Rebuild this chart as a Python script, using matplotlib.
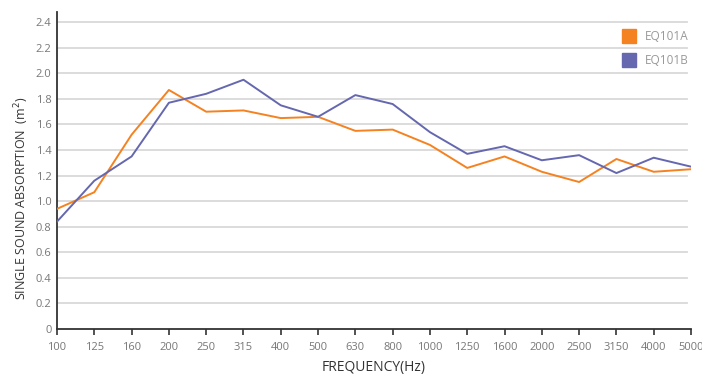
import matplotlib
matplotlib.use("Agg")
import matplotlib.pyplot as plt
from matplotlib.patches import Rectangle

plt.rcParams['font.family'] = ['Open Sans', 'DejaVu Sans']

freqs = ["100", "125", "160", "200", "250", "315", "400", "500", "630", "800",
         "1000", "1250", "1600", "2000", "2500", "3150", "4000", "5000"]
eq101a = [0.94, 1.07, 1.52, 1.87, 1.70, 1.71, 1.65, 1.66, 1.55, 1.56,
          1.44, 1.26, 1.35, 1.23, 1.15, 1.33, 1.23, 1.25]
eq101b = [0.84, 1.16, 1.35, 1.77, 1.84, 1.95, 1.75, 1.66, 1.83, 1.76,
          1.54, 1.37, 1.43, 1.32, 1.36, 1.22, 1.34, 1.27]
yticks = [0, 0.2, 0.4, 0.6, 0.8, 1.0, 1.2, 1.4, 1.6, 1.8, 2.0, 2.2, 2.4]
ytick_labels = ["0", "0.2", "0.4", "0.6", "0.8", "1.0", "1.2", "1.4", "1.6",
                "1.8", "2.0", "2.2", "2.4"]
series_names = ["EQ101A", "EQ101B"]
colors = ["#F58220", "#6567AF"]

fig = plt.figure(figsize=(7.02, 3.77), dpi=100)
ax = fig.add_axes([57/702, (377-329)/377, (691-57)/702, (329-12)/377])

x = list(range(len(freqs)))
ax.plot(x, eq101a, color=colors[0], lw=1.4, zorder=3)
ax.plot(x, eq101b, color=colors[1], lw=1.4, zorder=3)

ax.set_xlim(0, len(freqs) - 1)
ax.set_ylim(0, 2.48)
ax.set_xticks(x)
ax.set_xticklabels(freqs)
ax.set_yticks(yticks)
ax.set_yticklabels(ytick_labels)

for yv in yticks[1:]:
    ax.plot([0, len(freqs) - 1.1], [yv, yv], color="#d9d9d9", lw=1.3, zorder=1)

for s in ["top", "right"]:
    ax.spines[s].set_visible(False)
ax.spines["left"].set_color("#333333")
ax.spines["left"].set_linewidth(1.3)
ax.spines["bottom"].set_color("#333333")
ax.spines["bottom"].set_linewidth(1.3)

ax.tick_params(axis="x", direction="out", length=4, width=1.2, color="#333333",
               labelsize=8, labelcolor="#777777", pad=5)
ax.tick_params(axis="y", length=0, labelsize=8, labelcolor="#777777", pad=4)

fig.text(374/702, (377-368)/377, "FREQUENCY(Hz)", fontsize=10, color="#333333",
         ha="center", va="center")
fig.text(22/702, (377-198)/377, "SINGLE SOUND ABSORPTION  (m$^2$)", fontsize=9,
         color="#333333", ha="center", va="center", rotation=90)

# legend
for i, (name, c) in enumerate(zip(series_names, colors)):
    yc = 36 + 24 * i
    fig.patches.append(Rectangle((622/702, (377 - yc - 7)/377), 14/702, 14/377,
                                 transform=fig.transFigure, color=c))
    fig.text(645/702, (377 - yc)/377, name, fontsize=8.5, color="#999999",
             va="center", ha="left")

fig.savefig("out.png", dpi=100)
